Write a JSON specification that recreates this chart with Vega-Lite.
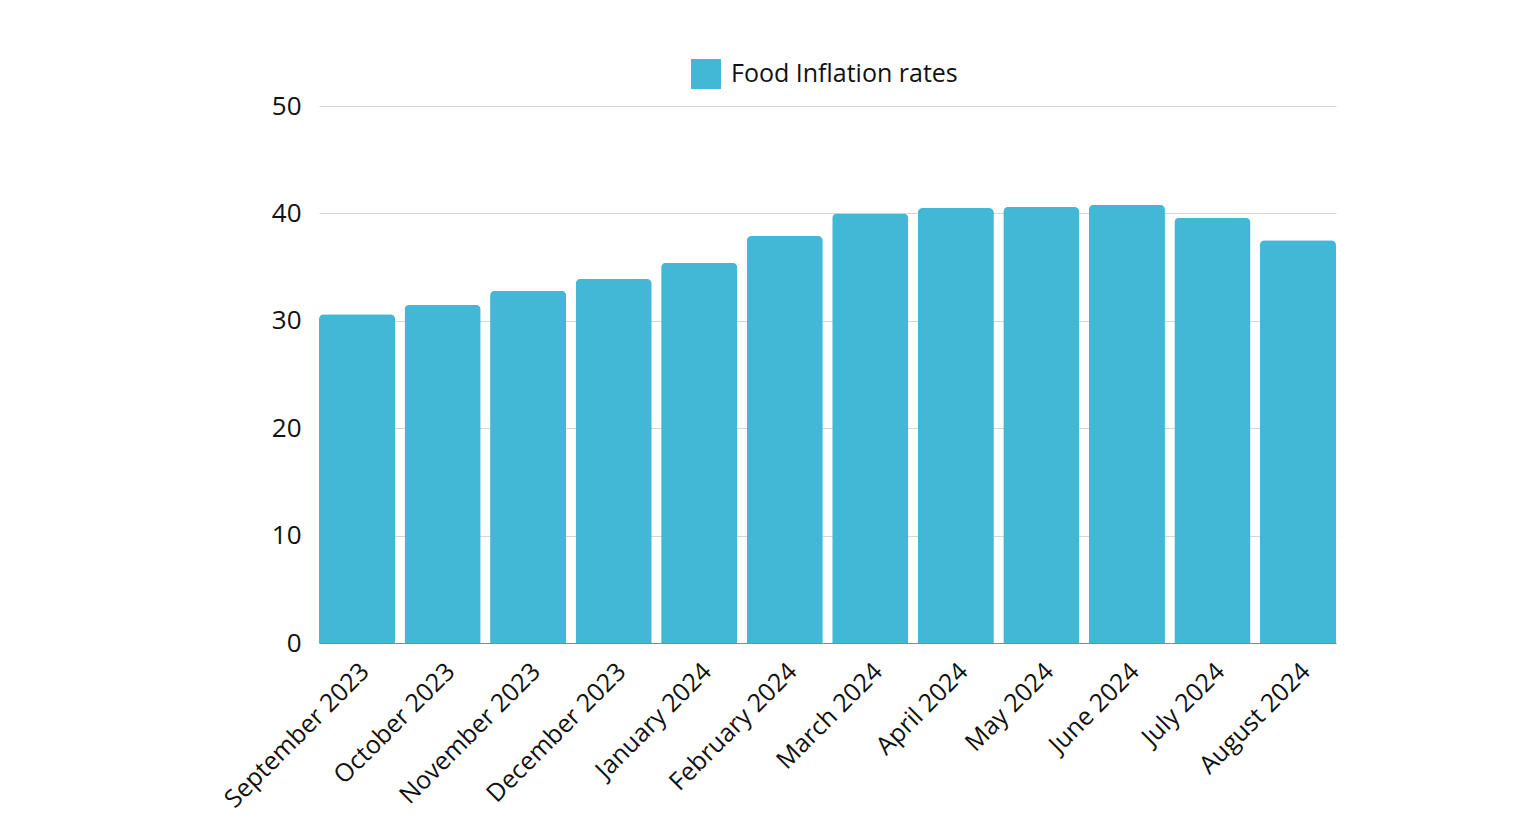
{
  "$schema": "https://vega.github.io/schema/vega-lite/v6.json",
  "width": 1017,
  "height": 537,
  "autosize": {"type": "none"},
  "padding": {"left": 319, "top": 106, "right": 187, "bottom": 182},
  "background": "white",
  "data": {
    "values": [
      {"month": "September 2023", "value": 30.6, "series": "Food Inflation rates"},
      {"month": "October 2023", "value": 31.5, "series": "Food Inflation rates"},
      {"month": "November 2023", "value": 32.8, "series": "Food Inflation rates"},
      {"month": "December 2023", "value": 33.9, "series": "Food Inflation rates"},
      {"month": "January 2024", "value": 35.4, "series": "Food Inflation rates"},
      {"month": "February 2024", "value": 37.9, "series": "Food Inflation rates"},
      {"month": "March 2024", "value": 40.0, "series": "Food Inflation rates"},
      {"month": "April 2024", "value": 40.5, "series": "Food Inflation rates"},
      {"month": "May 2024", "value": 40.6, "series": "Food Inflation rates"},
      {"month": "June 2024", "value": 40.8, "series": "Food Inflation rates"},
      {"month": "July 2024", "value": 39.6, "series": "Food Inflation rates"},
      {"month": "August 2024", "value": 37.5, "series": "Food Inflation rates"}
    ]
  },
  "mark": {"type": "bar", "cornerRadiusTopLeft": 5, "cornerRadiusTopRight": 5},
  "encoding": {
    "x": {
      "field": "month",
      "type": "nominal",
      "sort": null,
      "scale": {"paddingInner": 0.11, "paddingOuter": 0},
      "axis": {
        "title": null,
        "labelAngle": -45,
        "labelAlign": "right",
        "labelBaseline": "middle",
        "labelFont": "Open Sans",
        "labelFontSize": 25,
        "labelColor": "#111111",
        "labelPadding": 24,
        "labelOffset": 8,
        "labelLimit": 0,
        "ticks": false,
        "domain": true,
        "domainColor": "#888888",
        "domainWidth": 1
      }
    },
    "y": {
      "field": "value",
      "type": "quantitative",
      "scale": {"domain": [0, 50]},
      "axis": {
        "title": null,
        "values": [0, 10, 20, 30, 40, 50],
        "labelFont": "Open Sans",
        "labelFontSize": 26,
        "labelColor": "#111111",
        "labelPadding": 18,
        "ticks": false,
        "domain": false,
        "grid": true,
        "gridColor": "#d6d6d6",
        "gridWidth": 1
      }
    },
    "color": {
      "field": "series",
      "type": "nominal",
      "scale": {"range": ["#42B7D6"]},
      "legend": {
        "title": null,
        "orient": "none",
        "legendX": 372,
        "legendY": -47,
        "padding": 0,
        "symbolType": "square",
        "symbolSize": 900,
        "symbolStrokeWidth": 0,
        "labelFont": "Open Sans",
        "labelFontSize": 25,
        "labelColor": "#111111",
        "labelOffset": 10,
        "labelLimit": 0
      }
    }
  },
  "config": {"view": {"stroke": null}}
}
